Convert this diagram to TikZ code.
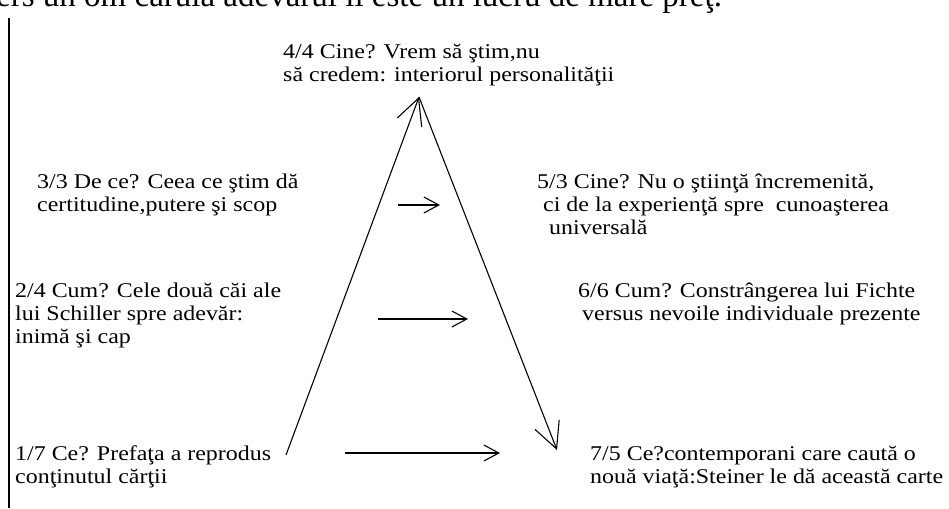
\documentclass[tikz,border=0pt]{standalone}
\usepackage{fontspec}
\setmainfont{Liberation Serif}[FakeStretch=1.14]
\newfontfamily\pagefont{Liberation Serif}
\usetikzlibrary{arrows.meta}

\begin{document}
\begin{tikzpicture}[
    x=1pt, y=-1pt,
    lbl/.style={anchor=base west, inner sep=0pt, align=left, font=\fontsize{21}{23}\selectfont},
    edge/.style={line width=1.1pt},
    arr/.style={-{Straight Barb[length=15pt, width=16pt]}, line width=1.1pt},
    big/.style={-{Straight Barb[length=26pt, width=26pt]}, line width=1.1pt}
  ]
  \useasboundingbox (0,0) rectangle (949,508);
  \clip (0,0) rectangle (949,508);
  \fill[white] (0,0) rectangle (949,508);

  % page text cut off at the top
  \node[anchor=base west, inner sep=0pt, font=\pagefont\fontsize{33}{36}\selectfont] (pg) at (-4,7) {ers un om căruia adevărul îi este un lucru de mare preţ.};
  \coordinate (mtop) at (9,18);
  \coordinate (mbot) at (9,508);
  \draw[edge] (mtop) -- (mbot);

  % triangle
  \coordinate (apex) at (419,97);
  \coordinate (lb) at (286,455);
  \coordinate (rb) at (557,450);
  \draw[big] (lb) -- (apex);
  \draw[big] (apex) -- (rb);

  % base anchor sits on the last line of each label
  \node[lbl] (n44) at (283,82) {4/4 Cine? Vrem să ştim,nu\\să credem: interiorul personalităţii};
  \node[lbl] (n33) at (37,211) {3/3 De ce? Ceea ce ştim dă\\certitudine,putere şi scop};
  \node[lbl] (n53) at (537,234) {5/3 Cine? Nu o ştiinţă încremenită,\\\hspace{6pt}ci de la experienţă spre\ \ cunoaşterea\\\hspace{12pt}universală};
  \node[lbl] (n24) at (15,343) {2/4 Cum? Cele două căi ale\\lui Schiller spre adevăr:\\inimă şi cap};
  \node[lbl] (n66) at (578,320) {6/6 Cum? Constrângerea lui Fichte\\\hspace{4pt}versus nevoile individuale prezente};
  \node[lbl] (n17) at (15,483) {1/7 Ce? Prefaţa a reprodus\\conţinutul cărţii};
  \node[lbl] (n75) at (590,483) {7/5 Ce?contemporani care caută o\\nouă viaţă:Steiner le dă această carte};

  % arrows between the two sides
  \coordinate (a1s) at (398,205);
  \coordinate (a1e) at (440,205);
  \coordinate (a2s) at (378,319);
  \coordinate (a2e) at (468,319);
  \coordinate (a3s) at (345,453);
  \coordinate (a3e) at (500,453);
  \draw[arr] (a1s) -- (a1e);
  \draw[arr] (a2s) -- (a2e);
  \draw[arr] (a3s) -- (a3e);
\end{tikzpicture}
\end{document}
